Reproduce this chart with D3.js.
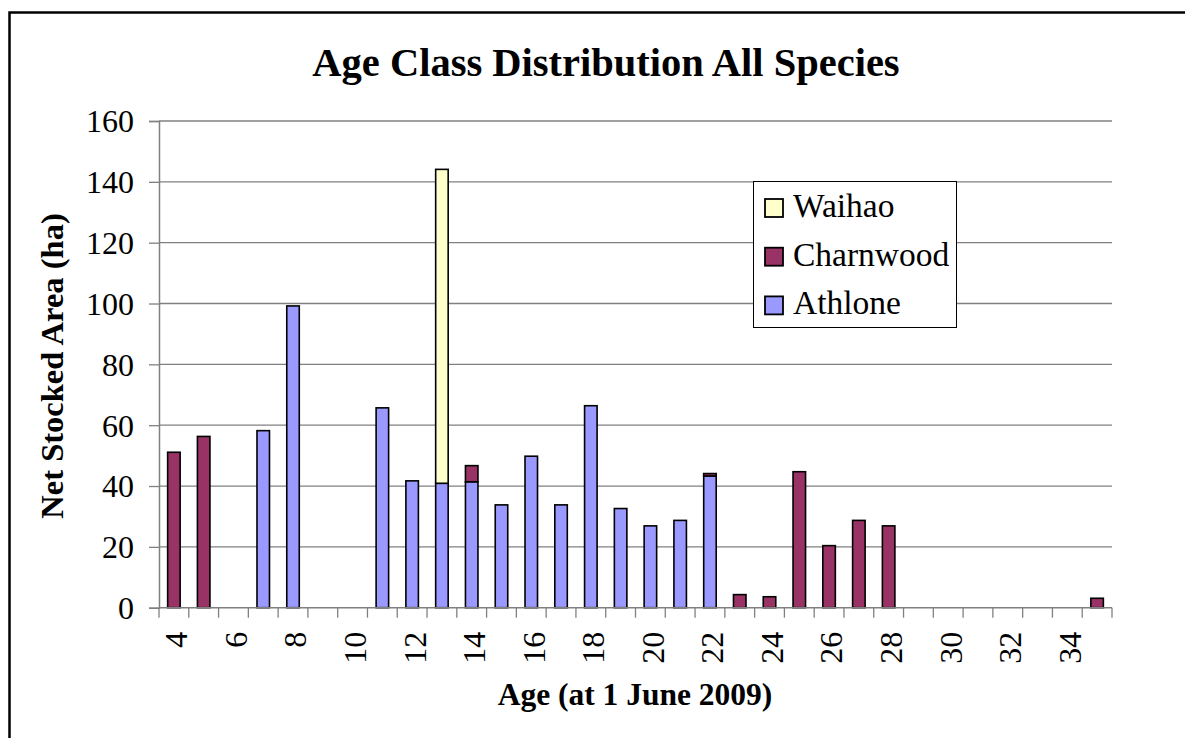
<html>
<script src='https://d3js.org/d3.v7.min.js'></script>
<body style="margin:0; background:#fff;">
<style>
    body { font-family: "Liberation Serif", "Times New Roman", serif; }
    svg text { font-family: "Liberation Serif", "Times New Roman", serif; fill: #000; }
    .grid line { stroke: #808080; stroke-width: 1.3px; }
</style>

<svg width=1185 height=738></svg>

<script>

// values (net stocked area, ha)
var ages = [4,5,6,7,8,9,10,11,12,13,14,15,16,17,18,19,20,21,22,23,24,25,26,27,28,29,30,31,32,33,34,35];
var athlone   = [0,0,0,58.2,99.2,0,0,65.7,41.7,40.9,41.4,33.8,49.8,33.8,66.4,32.6,26.9,28.7,43.3,0,0,0,0,0,0,0,0,0,0,0,0,0];
var charnwood = [51.1,56.3,0,0,0,0,0,0,0,0,5.3,0,0,0,0,0,0,0,0.8,4.3,3.6,44.7,20.4,28.7,26.9,0,0,0,0,0,0,3.1];
var waihao    = [0,0,0,0,0,0,0,0,0,103.2,0,0,0,0,0,0,0,0,0,0,0,0,0,0,0,0,0,0,0,0,0,0];
var seriesNames = ["Athlone", "Charnwood", "Waihao"];
var yTicks = [0,20,40,60,80,100,120,140,160];
var xLabels = [4,6,8,10,12,14,16,18,20,22,24,26,28,30,32,34];

var color = {};
color["Athlone"] = "#9999ff";
color["Charnwood"] = "#993366";
color["Waihao"] = "#ffffcc";

var plotLeft = 159, plotRight = 1112, plotTop = 121, plotBottom = 607.7;

var svg = d3.select("svg");

// outer frame
svg.append("rect")
    .attr("x", 9.5).attr("y", 12.5)
    .attr("width", 1300).attr("height", 800)
    .attr("fill", "none").attr("stroke", "#000").attr("stroke-width", 2.5);

var x = d3.scaleBand()
    .domain(ages)
    .range([plotLeft, plotRight])
    .padding(0);

var y = d3.scaleLinear()
    .domain([0, 160])
    .range([plotBottom, plotTop]);

// gridlines
svg.append("g").attr("class", "grid")
    .selectAll("line")
    .data(yTicks.slice(1))
    .enter().append("line")
    .attr("x1", plotLeft).attr("x2", plotRight)
    .attr("y1", function(d) { return y(d); })
    .attr("y2", function(d) { return y(d); });

// stack the three series
var rows = ages.map(function(a, i) {
    return { age: a, Athlone: athlone[i], Charnwood: charnwood[i], Waihao: waihao[i] };
});
var stacked = d3.stack().keys(seriesNames)(rows);

var barW = x.bandwidth() * 0.42;

svg.append("g").selectAll("g")
    .data(stacked)
    .enter().append("g")
    .attr("fill", function(d) { return color[d.key]; })
    .selectAll("rect")
    .data(function(d) { return d.filter(function(p) { return p[1] - p[0] > 0; }); })
    .enter().append("rect")
    .attr("x", function(d) { return x(d.data.age) + (x.bandwidth() - barW) / 2; })
    .attr("width", barW)
    .attr("y", function(d) { return y(d[1]); })
    .attr("height", function(d) { return y(d[0]) - y(d[1]); })
    .attr("stroke", "#000")
    .attr("stroke-width", 1.6);

// y axis
var yAxis = svg.append("g")
    .attr("transform", "translate(" + plotLeft + ",0)")
    .call(d3.axisLeft(y).tickValues(yTicks).tickSize(10).tickPadding(15));
yAxis.select(".domain").attr("stroke", "#808080").attr("stroke-width", 1.5);
yAxis.selectAll(".tick line").attr("stroke", "#808080").attr("stroke-width", 1.3);
yAxis.selectAll("text")
    .style("font-family", "'Liberation Serif', serif")
    .style("font-size", "32px")
    .attr("dy", "0.34em");

// x axis: ticks at category edges, labels on every second category
var edges = ages.map(function(a) { return x(a); }).concat([plotRight]);
var xg = svg.append("g");
xg.append("line")
    .attr("x1", plotLeft).attr("x2", plotRight)
    .attr("y1", plotBottom).attr("y2", plotBottom)
    .attr("stroke", "#808080").attr("stroke-width", 1.5);
xg.selectAll(".edge")
    .data(edges)
    .enter().append("line")
    .attr("class", "edge")
    .attr("x1", function(d) { return d; }).attr("x2", function(d) { return d; })
    .attr("y1", plotBottom).attr("y2", plotBottom + 10)
    .attr("stroke", "#808080").attr("stroke-width", 1.3);
xg.selectAll(".xlab")
    .data(xLabels)
    .enter().append("text")
    .attr("class", "xlab")
    .attr("transform", function(d) {
        return "translate(" + (x(d) + x.bandwidth() / 2 + 2.5) + "," + (plotBottom + 24) + ") rotate(-90)";
    })
    .attr("dy", "0.34em")
    .attr("text-anchor", "end")
    .style("font-size", "32px")
    .text(function(d) { return d; });

// titles
svg.append("text")
    .attr("x", 606).attr("y", 76)
    .attr("text-anchor", "middle")
    .style("font-size", "40.5px").style("font-weight", "bold")
    .text("Age Class Distribution All Species");

svg.append("text")
    .attr("transform", "translate(63,366) rotate(-90)")
    .attr("text-anchor", "middle")
    .style("font-size", "32.5px").style("font-weight", "bold")
    .text("Net Stocked Area (ha)");

svg.append("text")
    .attr("x", 635).attr("y", 705)
    .attr("text-anchor", "middle")
    .style("font-size", "31.5px").style("font-weight", "bold")
    .text("Age (at 1 June 2009)");

// legend
var legend = svg.append("g");
legend.append("rect")
    .attr("x", 753.5).attr("y", 181.5)
    .attr("width", 203).attr("height", 146)
    .attr("fill", "#fff").attr("stroke", "#000").attr("stroke-width", 1);

var legendItems = seriesNames.slice().reverse();
legendItems.forEach(function(name, i) {
    var cy = 208 + i * 48.7;
    legend.append("rect")
        .attr("x", 765).attr("y", cy - 9)
        .attr("width", 18).attr("height", 18)
        .attr("fill", color[name]).attr("stroke", "#000").attr("stroke-width", 1.8);
    legend.append("text")
        .attr("x", 793).attr("y", cy + 9)
        .style("font-size", "33.5px")
        .text(name);
});

</script>
</body>
</html>
